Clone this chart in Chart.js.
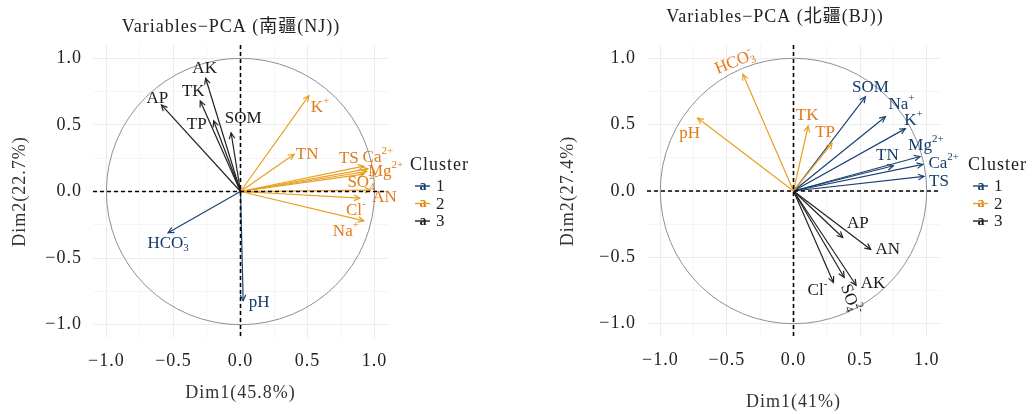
<!DOCTYPE html>
<html><head><meta charset="utf-8">
<script src="https://cdn.jsdelivr.net/npm/chart.js@4.4.0/dist/chart.umd.min.js"></script>
<style>
html,body{margin:0;padding:0;background:#fff;}
#wrap{position:relative;width:1032px;height:414px;overflow:hidden;background:#fff;}
canvas{position:absolute;top:0;}
</style></head><body>
<div id="wrap">
<canvas id="c1" width="516" height="414" style="left:0px"></canvas>
<canvas id="c2" width="516" height="414" style="left:516px"></canvas>
</div>
<script>
const FONT = '"Liberation Serif","Noto Sans CJK SC",serif';

// ---------- data: 南疆 (NJ) ----------
const njVars    = ['AK','TK','AP','TP','SOM','K+','TN','TS','Ca2+','Mg2+','SO42-','AN','Cl-','Na+','HCO3-','pH'];
const njLabels  = ['AK','TK','AP','TP','SOM','K^+','TN','TS','Ca^{2+}','Mg^{2+}','SO_4^{2-}','AN','Cl^-','Na^+','HCO_3^-','pH'];
const njDim1    = [-0.26,-0.30,-0.59,-0.20,-0.07, 0.51, 0.40, 0.92, 0.95, 0.94, 0.92, 0.97, 0.89, 0.92,-0.54, 0.02];
const njDim2    = [ 0.85, 0.68, 0.65, 0.53, 0.44, 0.72, 0.28, 0.19, 0.17, 0.15, 0.13, 0.01,-0.05,-0.22,-0.31,-0.82];
const njCluster = [3,3,3,3,3,2,2,2,2,2,2,2,2,2,1,1];

// ---------- data: 北疆 (BJ) ----------
const bjVars    = ['HCO3-','pH','TK','TP','SOM','Na+','K+','Mg2+','TN','Ca2+','TS','AP','AN','AK','SO42-','Cl-'];
const bjLabels  = ['HCO_3^-','pH','TK','TP','SOM','Na^+','K^+','Mg^{2+}','TN','Ca^{2+}','TS','AP','AN','AK','SO_4^{2-}','Cl^-'];
const bjDim1    = [-0.38,-0.72, 0.11, 0.29, 0.54, 0.69, 0.84, 0.95, 0.75, 0.97, 0.98, 0.37, 0.58, 0.47, 0.38, 0.30];
const bjDim2    = [ 0.88, 0.55, 0.49, 0.36, 0.71, 0.56, 0.47, 0.26, 0.19, 0.20, 0.11,-0.35,-0.44,-0.71,-0.65,-0.69];
const bjCluster = [2,2,2,2,1,1,1,1,1,1,1,3,3,3,3,3];

const majorTicks = [-1, -0.5, 0, 0.5, 1];
const minorTicks = [-0.75, -0.25, 0.25, 0.75];
const clusterNames = ['1','2','3'];

// ---------- styling (kept apart from data) ----------
const lineColors  = ['#1B4174','#E9A020','#222222'];
const labelColors = ['#163C6B','#E27A16','#1a1a1a'];
// label placement: pixel offset from arrow tip [dx, dy, rotationDeg]
const njLabelPos = [[-1,-10,0],[-7,-9,0],[-4,-6,0],[-17,4,0],[12,-14,0],[11,12,0],[13,0,0],[-15,-8,0],[10,-11,0],[19,0,0],[-1,8,0],[14,7,0],[-4,12,0],[-18,11,0],[0,11,0],[16,2,0]];
const bjLabelPos = [[-8,-12,-22],[-8,16,0],[-1,-10,0],[-7,-11,0],[5,-9,0],[16,-12,0],[8,-8,0],[6,-11,0],[-6,-10,0],[21,-1,0],[15,5,0],[15,-14,0],[17,0,0],[17,-2,0],[6,22,70],[-16,8,0]];

function parseLabel(s){
  const parts=[]; let i=0; let base='';
  while(i<s.length){
    const c=s[i];
    if(c==='_'||c==='^'){
      if(base){parts.push({t:base,k:'b'});base='';}
      let txt; i++;
      if(s[i]==='{'){const j=s.indexOf('}',i);txt=s.slice(i+1,j);i=j+1;}else{txt=s[i];i++;}
      parts.push({t:txt,k:c==='_'?'sub':'sup'});
    } else {base+=c;i++;}
  }
  if(base)parts.push({t:base,k:'b'});
  return parts;
}
function drawRich(ctx,s,cx,cy,rot,color,size){
  const parts=parseLabel(s);
  const bf=size+'px '+FONT, sf=Math.round(size*0.66)+'px '+FONT;
  ctx.save();
  ctx.letterSpacing='0px';
  let x=0; const items=[];
  for(let p=0;p<parts.length;p++){
    const pr=parts[p];
    ctx.font=pr.k==='b'?bf:sf;
    const w=ctx.measureText(pr.t).width;
    if(pr.k==='sup'&&p>0&&parts[p-1].k==='sub'){
      const prev=items[items.length-1];
      items.push({t:pr.t,k:'sup',x:prev.x,w});
      x=prev.x+Math.max(prev.w,w);
    } else {
      items.push({t:pr.t,k:pr.k,x,w}); x+=w;
    }
  }
  const total=x;
  ctx.translate(cx,cy); ctx.rotate(rot*Math.PI/180);
  ctx.fillStyle=color; ctx.textBaseline='middle'; ctx.textAlign='left';
  for(const it of items){
    ctx.font=it.k==='b'?bf:sf;
    const dy=it.k==='sup'?-size*0.38:(it.k==='sub'?size*0.28:0);
    ctx.fillText(it.t,it.x-total/2,dy);
  }
  ctx.restore();
}
function fmt(v){return (v<0?'\u2212':'')+Math.abs(v).toFixed(1);}

function makeChart(id,cfg){
  const datasets=cfg.vars.map((v,i)=>({
    label:v,
    data:[{x:0,y:0},{x:cfg.d1[i],y:cfg.d2[i]}],
    borderColor:lineColors[cfg.cl[i]-1],
    borderWidth:1.2, showLine:true, pointRadius:0, fill:false
  }));
  const allTicks=majorTicks.concat(minorTicks).sort((a,b)=>a-b);
  const gridColor=(c)=> (c.tick && majorTicks.includes(c.tick.value)) ? '#ececec' : '#f5f5f5';
  const pcaPlugin={
    id:'pca'+id,
    beforeInit(chart){ chart.ctx.letterSpacing='1px'; },
    beforeDraw(chart){ chart.ctx.letterSpacing='1px'; },
    beforeDatasetsDraw(chart){
      const {ctx,scales:{x,y}}=chart;
      const cx=x.getPixelForValue(0), cy=y.getPixelForValue(0);
      const rx=x.getPixelForValue(1)-cx, ry=cy-y.getPixelForValue(1);
      ctx.save(); ctx.strokeStyle='#8e8e9c'; ctx.lineWidth=1;
      ctx.beginPath(); ctx.ellipse(cx,cy,rx,ry,0,0,Math.PI*2); ctx.stroke(); ctx.restore();
    },
    afterDatasetsDraw(chart){
      const {ctx,chartArea:a,scales:{x,y}}=chart;
      const cx=x.getPixelForValue(0), cy=y.getPixelForValue(0);
      ctx.save();
      cfg.vars.forEach((v,i)=>{
        const tx=x.getPixelForValue(cfg.d1[i]), ty=y.getPixelForValue(cfg.d2[i]);
        const ang=Math.atan2(ty-cy,tx-cx), L=6.5, h=Math.PI/7;
        ctx.strokeStyle=lineColors[cfg.cl[i]-1]; ctx.lineWidth=1.2;
        ctx.beginPath();
        ctx.moveTo(tx-L*Math.cos(ang-h),ty-L*Math.sin(ang-h));
        ctx.lineTo(tx,ty);
        ctx.lineTo(tx-L*Math.cos(ang+h),ty-L*Math.sin(ang+h));
        ctx.stroke();
      });
      ctx.strokeStyle='#000'; ctx.lineWidth=1.6; ctx.setLineDash([4,3]);
      ctx.beginPath(); ctx.moveTo(a.left,cy); ctx.lineTo(a.right,cy); ctx.stroke();
      ctx.beginPath(); ctx.moveTo(cx,a.top); ctx.lineTo(cx,a.bottom); ctx.stroke();
      ctx.setLineDash([]);
      cfg.vars.forEach((v,i)=>{
        const tx=x.getPixelForValue(cfg.d1[i]), ty=y.getPixelForValue(cfg.d2[i]);
        const p=cfg.pos[i];
        drawRich(ctx,cfg.labels[i],tx+p[0],ty+p[1],p[2],labelColors[cfg.cl[i]-1],17);
      });
      ctx.restore();
    },
    afterDraw(chart){
      const {ctx}=chart;
      ctx.save();
      ctx.letterSpacing='1px';
      ctx.fillStyle='#222'; ctx.textBaseline='middle'; ctx.textAlign='center';
      ctx.font='18px '+FONT;
      ctx.fillText(cfg.title,cfg.titleX,cfg.titleY);
      ctx.textAlign='left'; ctx.font='18px '+FONT; ctx.fillStyle='#222';
      ctx.fillText('Cluster',cfg.legX,cfg.legY);
      clusterNames.forEach((n,k)=>{
        const yy=cfg.legY+21+k*17.5, kx=cfg.legX+13;
        ctx.letterSpacing='0px';
        ctx.font='bold 14px '+FONT; ctx.fillStyle=labelColors[k]; ctx.textAlign='center';
        ctx.fillText('a',kx,yy);
        ctx.strokeStyle=lineColors[k]; ctx.lineWidth=1.4;
        ctx.beginPath(); ctx.moveTo(kx-8,yy); ctx.lineTo(kx+7,yy); ctx.stroke();
        ctx.font='17px '+FONT; ctx.fillStyle='#222'; ctx.textAlign='left';
        ctx.fillText(n,cfg.legX+26,yy+1);
      });
      ctx.restore();
    }
  };
  const tickOpts={font:{family:FONT,size:18},color:'#222',padding:11,autoSkip:false,maxRotation:0,
    callback:(v)=> majorTicks.includes(v)?fmt(v):''};
  return new Chart(document.getElementById(id),{
    type:'scatter',
    data:{datasets},
    options:{
      responsive:false, animation:false,
      layout:{padding:{top:45,right:cfg.padRight,bottom:0,left:0}},
      plugins:{legend:{display:false},tooltip:{enabled:false},title:{display:false}},
      scales:{
        x:{type:'linear',min:-1.1,max:1.1,
          afterBuildTicks:(s)=>{s.ticks=allTicks.map(v=>({value:v}));},
          afterFit:(s)=>{s.height=cfg.xH;},
          grid:{drawTicks:false,color:gridColor,lineWidth:1},
          border:{display:false},
          ticks:Object.assign({},tickOpts,{padding:12}),
          title:{display:true,text:cfg.xTitle,font:{family:FONT,size:18},color:'#333',padding:{top:0,bottom:cfg.xTitlePad}}
        },
        y:{type:'linear',min:-1.1,max:1.1,
          afterBuildTicks:(s)=>{s.ticks=allTicks.map(v=>({value:v}));},
          afterFit:(s)=>{s.width=cfg.yW;},
          grid:{drawTicks:false,color:gridColor,lineWidth:1},
          border:{display:false},
          ticks:tickOpts,
          title:{display:true,text:cfg.yTitle,font:{family:FONT,size:18},color:'#333',padding:{top:cfg.yTitlePad,bottom:0}}
        }
      }
    },
    plugins:[pcaPlugin]
  });
}

makeChart('c1',{vars:njVars,labels:njLabels,d1:njDim1,d2:njDim2,cl:njCluster,pos:njLabelPos,
  title:'Variables\u2212PCA (南疆(NJ))',titleX:231,titleY:27,
  xTitle:'Dim1(45.8%)',yTitle:'Dim2(22.7%)',
  padRight:128,xH:76,yW:93,xTitlePad:10,yTitlePad:9,legX:410,legY:165});
makeChart('c2',{vars:bjVars,labels:bjLabels,d1:bjDim1,d2:bjDim2,cl:bjCluster,pos:bjLabelPos,
  title:'Variables\u2212PCA (北疆(BJ))',titleX:259,titleY:17,
  xTitle:'Dim1(41%)',yTitle:'Dim2(27.4%)',
  padRight:92,xH:77,yW:131,xTitlePad:1,yTitlePad:41,legX:452,legY:165});
</script>
</body></html>
